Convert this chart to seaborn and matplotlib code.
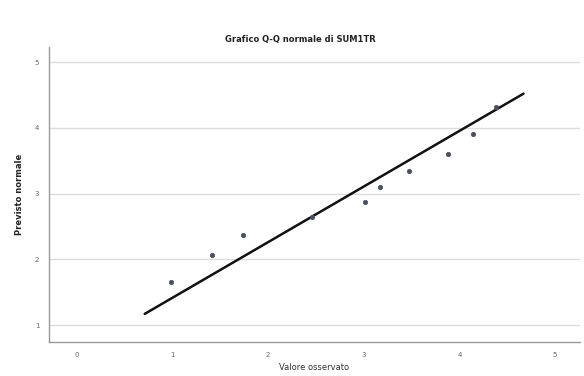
import matplotlib
matplotlib.use("Agg")
import matplotlib.pyplot as plt
import seaborn as sns
import pandas as pd

observed = [0.99, 1.41, 1.74, 2.46, 3.01, 3.17, 3.47, 3.88, 4.14, 4.38]
expected = [1.66, 2.07, 2.37, 2.65, 2.87, 3.10, 3.34, 3.60, 3.91, 4.32]
# Reference line end points
line_x = [0.71, 4.67]
line_y = [1.17, 4.52]

x_ticks = [0, 1, 2, 3, 4, 5]
y_ticks = [1, 2, 3, 4, 5]

title = "Grafico Q-Q normale di SUM1TR"
x_label = "Valore osservato"
y_label = "Previsto normale"

sns.set_theme(style="white")
plt.rcParams["font.family"] = ["DejaVu Sans"]

fig = plt.figure(figsize=(5.84, 3.76), dpi=100)
ax = fig.add_axes([0.084, 0.09, 0.909, 0.785])

df_pts = pd.DataFrame({"x": observed, "y": expected})
df_line = pd.DataFrame({"x": line_x, "y": line_y})

sns.lineplot(data=df_line, x="x", y="y", ax=ax, color="#111111", linewidth=1.8, zorder=3)
sns.scatterplot(data=df_pts, x="x", y="y", ax=ax, color="#4a505c", s=11,
                edgecolor="#4a505c", linewidth=0.4, zorder=4)

ax.set_xlim(-0.29, 5.26)
ax.set_ylim(0.74, 5.23)
ax.set_xticks(x_ticks)
ax.set_yticks(y_ticks)
ax.set_xticklabels([str(v) for v in x_ticks], fontsize=5, color="#666666")
ax.set_yticklabels([str(v) for v in y_ticks], fontsize=5, color="#666666")
ax.tick_params(axis="both", length=3, width=0.6, color="#aaaaaa", pad=4)

ax.yaxis.grid(True, color="#dddddd", linewidth=1.0)
ax.xaxis.grid(False)
for s in ["top", "right"]:
    ax.spines[s].set_visible(False)
for s in ["left", "bottom"]:
    ax.spines[s].set_color("#999999")
    ax.spines[s].set_linewidth(1.0)

ax.set_xlabel(x_label, fontsize=6, color="#333333", labelpad=4)
ax.set_ylabel(y_label, fontsize=6, color="#222222", fontweight="bold", labelpad=8)
fig.text(0.515, 0.895, title, ha="center", va="center", fontsize=6, fontweight="bold", color="#222222")

fig.savefig("out.png", dpi=100)
